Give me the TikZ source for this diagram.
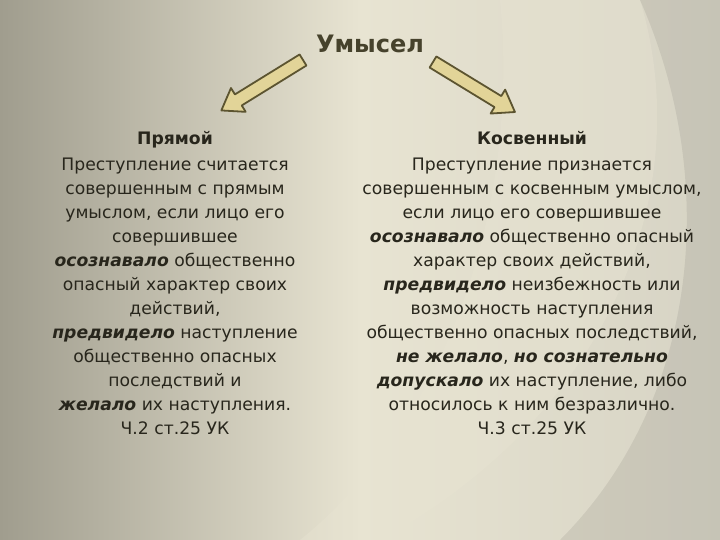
\documentclass[tikz,border=0pt]{standalone}
\usepackage{fontspec}
\setmainfont{DejaVu Sans}
\definecolor{bgL}{RGB}{160,157,142}
\definecolor{bgM}{RGB}{232,228,210}
\definecolor{bgR}{RGB}{214,211,196}
\definecolor{txt}{RGB}{40,38,28}
\definecolor{ttl}{RGB}{70,66,44}
\definecolor{arf}{RGB}{226,212,152}
\definecolor{ard}{RGB}{92,84,48}
\begin{document}
\begin{tikzpicture}[x=1pt,y=-1pt,
  col/.style={text=txt,align=center,font=\fontsize{17.2}{24}\selectfont,anchor=north},
  barrow/.style={fill=arf,draw=ard,line width=1.8pt,line join=round}]
\shade[left color=bgL,right color=bgR,middle color=bgM] (0,0) rectangle (720,540);
\fill[bgM,opacity=0.4] (380,540) .. controls (600,420) and (700,200) .. (640,0) -- (500,0) .. controls (520,200) and (450,420) .. (300,540) -- cycle;
\fill[black,opacity=0.07] (640,0) .. controls (720,180) and (700,400) .. (560,540) -- (720,540) -- (720,0) -- cycle;
\useasboundingbox (0,0) rectangle (720,540);
\node[text=ttl,font=\fontsize{24}{28}\selectfont\bfseries] (title) at (370,44) {Умысел};
\coordinate (lt) at (303,60); \coordinate (lh) at (222,111);
\coordinate (rt) at (433,62); \coordinate (rh) at (515,112);
\begin{scope}[shift={(lt)},rotate=-148.3]
\draw[barrow] (0,-6.5) -- (76,-6.5) -- (76,-14) -- (96,0) -- (76,14) -- (76,6.5) -- (0,6.5) -- cycle;
\end{scope}
\begin{scope}[shift={(rt)},rotate=-31.4]
\draw[barrow] (0,-6.5) -- (76,-6.5) -- (76,-14) -- (96,0) -- (76,14) -- (76,6.5) -- (0,6.5) -- cycle;
\end{scope}
\node[col] (left) at (175,128) {\textbf{Прямой}\\[2pt]
Преступление считается\\
совершенным с прямым\\
умыслом, если лицо его\\
совершившее\\
\textbf{\textit{осознавало}} общественно\\
опасный характер своих\\
действий,\\
\textbf{\textit{предвидело}} наступление\\
общественно опасных\\
последствий и\\
\textbf{\textit{желало}} их наступления.\\
Ч.2 ст.25 УК};
\node[col] (right) at (532,128) {\textbf{Косвенный}\\[2pt]
Преступление признается\\
совершенным с косвенным умыслом,\\
если лицо его совершившее\\
\textbf{\textit{осознавало}} общественно опасный\\
характер своих действий,\\
\textbf{\textit{предвидело}} неизбежность или\\
возможность наступления\\
общественно опасных последствий,\\
\textbf{\textit{не желало}}, \textbf{\textit{но сознательно}}\\
\textbf{\textit{допускало}} их наступление, либо\\
относилось к ним безразлично.\\
Ч.3 ст.25 УК};
\end{tikzpicture}
\end{document}
